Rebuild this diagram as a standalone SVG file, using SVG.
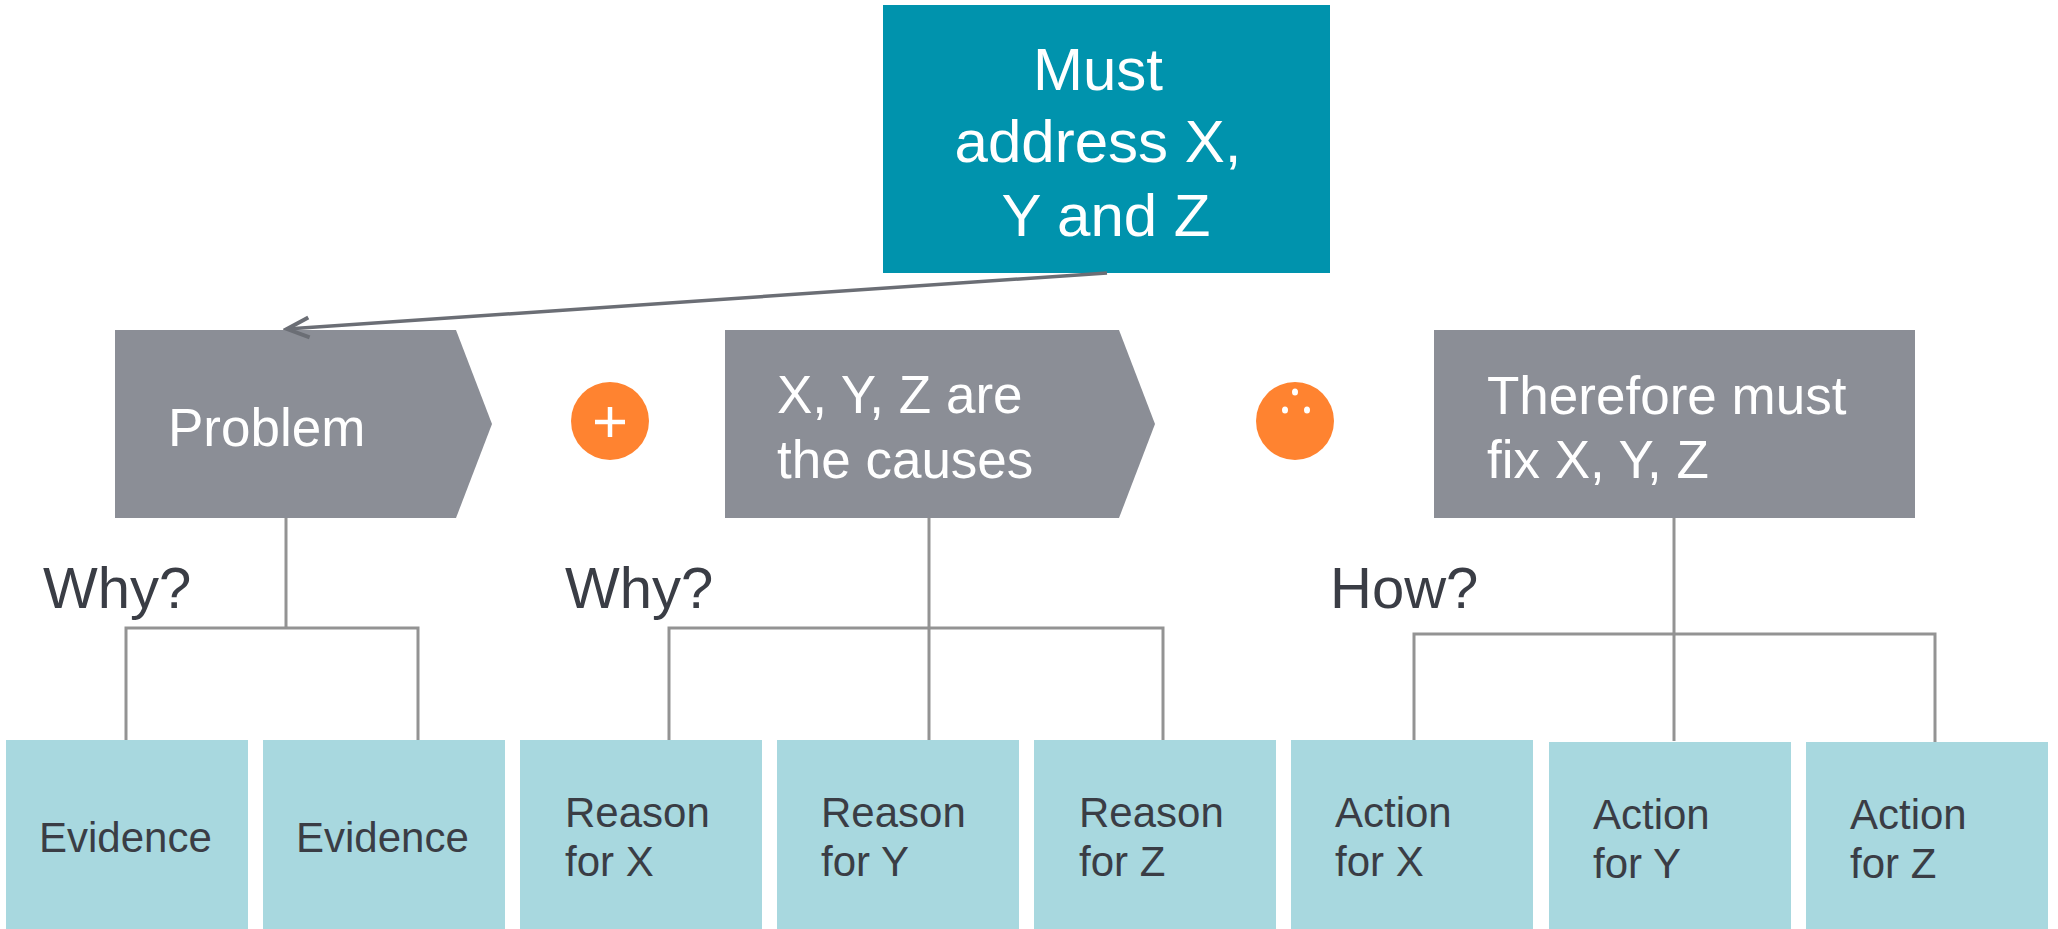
<svg xmlns="http://www.w3.org/2000/svg" width="2058" height="929" viewBox="0 0 2058 929">
<style>
.top{fill:#0093AD}
.chev{fill:#8B8E96}
.leaf{fill:#A8D8DF}
.op{fill:#FF8330}
.wt{font-family:"Liberation Sans",Arial,sans-serif;fill:#FFFFFF}
.dk{font-family:"Liberation Sans",Arial,sans-serif;fill:#3A3D45}
.big{font-size:60px}
.mid{font-size:53px}
.q{font-size:58px}
.sm{font-size:42px}
.conn{stroke:#939393;stroke-width:3;fill:none}
.arr{stroke:#6B6E75;stroke-width:3.5;fill:none}
</style>
<defs>
<marker id="open" markerUnits="userSpaceOnUse" markerWidth="30" markerHeight="30" viewBox="-26 -13 30 26" refX="0" refY="0" orient="auto">
<path d="M-22,-10 L0,0 L-22,10" fill="none" stroke="#6B6E75" stroke-width="4"/>
</marker>
</defs>
<g id="top-node">
<rect class="top" x="883" y="5" width="447" height="268"/>
<text class="wt big" text-anchor="middle" x="1098" y="90">Must</text>
<text class="wt big" text-anchor="middle" x="1098" y="162">address X,</text>
<text class="wt big" text-anchor="middle" x="1106" y="236">Y and Z</text>
</g>
<g id="problem">
<polygon class="chev" points="115,330 456,330 492,424 456,518 115,518"/>
<text class="wt mid" x="168" y="446">Problem</text>
</g>
<g id="plus">
<circle class="op" cx="610" cy="421" r="39"/>
<path d="M595,422 H625 M610,407 V437" stroke="#FFFFFF" stroke-width="4.5"/>
</g>
<g id="causes">
<polygon class="chev" points="725,330 1119,330 1155,424 1119,518 725,518"/>
<text class="wt mid" x="777" y="413">X, Y, Z are</text>
<text class="wt mid" x="777" y="478">the causes</text>
</g>
<g id="therefore">
<circle class="op" cx="1295" cy="421" r="39"/>
<ellipse cx="1295" cy="392" rx="3" ry="3.5" fill="#FFFFFF"/>
<ellipse cx="1285" cy="410" rx="3" ry="3.5" fill="#FFFFFF"/>
<ellipse cx="1307" cy="410" rx="3" ry="3.5" fill="#FFFFFF"/>
</g>
<g id="fix">
<rect class="chev" x="1434" y="330" width="481" height="188"/>
<text class="wt mid" x="1487" y="414">Therefore must</text>
<text class="wt mid" x="1487" y="478">fix X, Y, Z</text>
</g>
<g id="labels">
<text class="dk q" x="43" y="608">Why?</text>
<text class="dk q" x="565" y="608">Why?</text>
<text class="dk q" x="1330" y="608">How?</text>
</g>
<g id="evidence1">
<rect class="leaf" x="6" y="740" width="242" height="189"/>
<text class="dk sm" x="39" y="852">Evidence</text>
</g>
<g id="evidence2">
<rect class="leaf" x="263" y="740" width="242" height="189"/>
<text class="dk sm" x="296" y="852">Evidence</text>
</g>
<g id="reasonX">
<rect class="leaf" x="520" y="740" width="242" height="189"/>
<text class="dk sm" x="565" y="827">Reason</text>
<text class="dk sm" x="565" y="876">for X</text>
</g>
<g id="reasonY">
<rect class="leaf" x="777" y="740" width="242" height="189"/>
<text class="dk sm" x="821" y="827">Reason</text>
<text class="dk sm" x="821" y="876">for Y</text>
</g>
<g id="reasonZ">
<rect class="leaf" x="1034" y="740" width="242" height="189"/>
<text class="dk sm" x="1079" y="827">Reason</text>
<text class="dk sm" x="1079" y="876">for Z</text>
</g>
<g id="actionX">
<rect class="leaf" x="1291" y="740" width="242" height="189"/>
<text class="dk sm" x="1335" y="827">Action</text>
<text class="dk sm" x="1335" y="876">for X</text>
</g>
<g id="actionY">
<rect class="leaf" x="1549" y="742" width="242" height="187"/>
<text class="dk sm" x="1593" y="829">Action</text>
<text class="dk sm" x="1593" y="878">for Y</text>
</g>
<g id="actionZ">
<rect class="leaf" x="1806" y="742" width="242" height="187"/>
<text class="dk sm" x="1850" y="829">Action</text>
<text class="dk sm" x="1850" y="878">for Z</text>
</g>
<g id="connectors">
<path class="arr" d="M1107,273 L287,329" marker-end="url(#open)"/>
<path class="conn" d="M286,518 V628 M126,740 V628 H418 V740"/>
<path class="conn" d="M929,518 V740 M669,740 V628 H1163 V740"/>
<path class="conn" d="M1674,518 V741 M1414,740 V634 H1935 V742"/>
</g>
</svg>
